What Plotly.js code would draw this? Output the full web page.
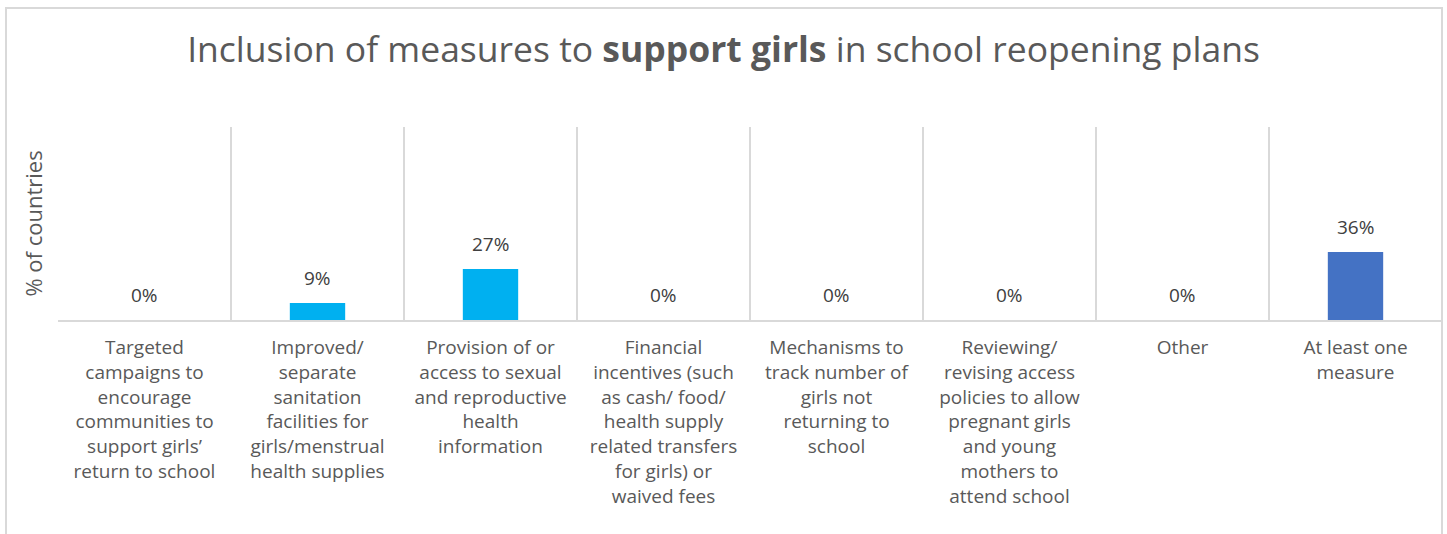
<!DOCTYPE html>
<html>
<head>
<meta charset="utf-8">
<script src="https://cdn.plot.ly/plotly-3.0.1.min.js"></script>
<style>
  html, body { margin: 0; padding: 0; background: #ffffff; }
  #wrap { position: relative; width: 1447px; height: 534px; overflow: hidden; }
  #chart { position: absolute; left: 0; top: 0; width: 1447px; height: 534px; }
  #frame { position: absolute; left: 5px; top: 7px; width: 1434px; height: 560px;
           border: 2px solid #d9d9d9; pointer-events: none; }
</style>
</head>
<body>
<div id="wrap">
  <div id="chart"></div>
  <div id="frame"></div>
</div>
<script>
// ---- Data ----
const categories = [
  "Targeted<br>campaigns to<br>encourage<br>communities to<br>support girls’<br>return to school",
  "Improved/<br>separate<br>sanitation<br>facilities for<br>girls/menstrual<br>health supplies",
  "Provision of or<br>access to sexual<br>and reproductive<br>health<br>information",
  "Financial<br>incentives (such<br>as cash/ food/<br>health supply<br>related transfers<br>for girls) or<br>waived fees",
  "Mechanisms to<br>track number of<br>girls not<br>returning to<br>school",
  "Reviewing/<br>revising access<br>policies to allow<br>pregnant girls<br>and young<br>mothers to<br>attend school",
  "Other",
  "At least one<br>measure"
];
const values = [0, 9, 27, 0, 0, 0, 0, 36];
const valueLabels = ["0%", "9%", "27%", "0%", "0%", "0%", "0%", "36%"];
const barColors = ["#00B0F0", "#00B0F0", "#00B0F0", "#00B0F0", "#00B0F0", "#00B0F0", "#00B0F0", "#4472C4"];

const titleText = "Inclusion of measures to <b>support girls</b> in school reopening plans";
const yTitle = "% of countries";

const FONT = "'Open Sans', Lato, sans-serif";

// ---- Chart ----
const trace = {
  type: "bar",
  x: categories,
  y: values,
  marker: { color: barColors, line: { width: 0 } },
  width: 0.32,
  hoverinfo: "skip"
};

const annotations = categories.map((c, i) => ({
  x: c, y: values[i], xref: "x", yref: "y",
  text: valueLabels[i], showarrow: false,
  yanchor: "middle", yshift: 25,
  font: { family: FONT, size: 19, color: "#404040" }
}));

const layout = {
  width: 1447, height: 534,
  margin: { l: 58, r: 5, t: 127, b: 214, pad: 0 },
  paper_bgcolor: "#ffffff", plot_bgcolor: "#ffffff",
  showlegend: false,
  title: {
    text: titleText,
    x: 0.5, xanchor: "center",
    y: 1 - 50 / 534, yref: "container", yanchor: "middle",
    font: { family: FONT, size: 35.5, color: "#595959" }
  },
  xaxis: {
    type: "category",
    tickson: "boundaries",
    ticks: "",
    showgrid: true, gridcolor: "#d9d9d9", gridwidth: 1.5,
    showline: true, linecolor: "#d9d9d9", linewidth: 1.5,
    tickfont: { family: FONT, size: 19, color: "#595959" },
    ticklabelstandoff: 10,
    tickangle: 0,
    fixedrange: true
  },
  yaxis: {
    range: [0, 102],
    showgrid: false, zeroline: false, showline: false,
    showticklabels: false, ticks: "",
    title: {
      text: yTitle, standoff: 8,
      font: { family: FONT, size: 22, color: "#595959" }
    },
    fixedrange: true
  },
  annotations: annotations
};

Plotly.newPlot("chart", [trace], layout, { displayModeBar: false, staticPlot: true });
</script>
</body>
</html>
